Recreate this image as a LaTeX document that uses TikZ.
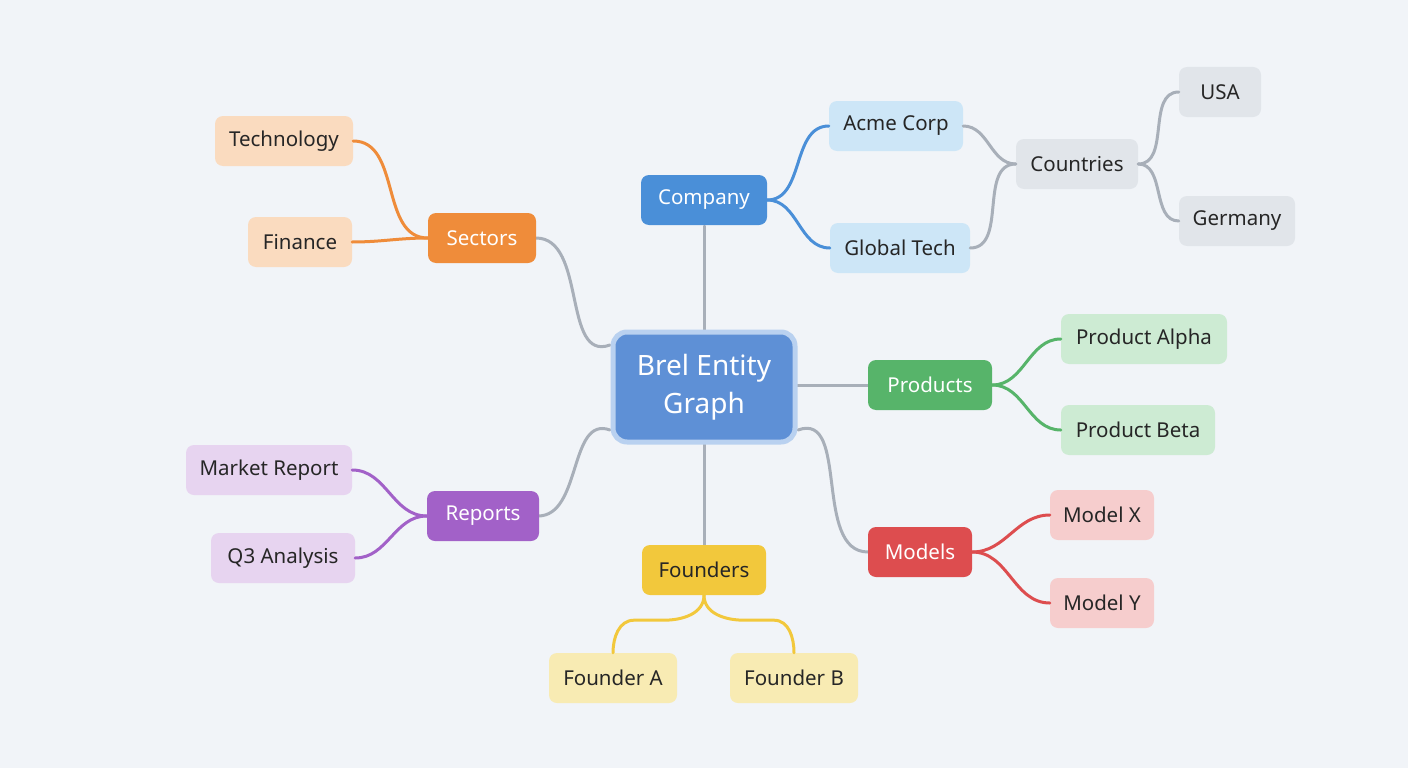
\documentclass[tikz,border=0pt]{standalone}
\usepackage{fontspec}
\setmainfont{Noto Sans}
\begin{document}
\begin{tikzpicture}[x=1pt,y=-1pt,
  box/.style={rounded corners=8pt,minimum height=50pt,font=\fontsize{20.5}{22}\selectfont,inner sep=0pt,text=black!85},
  dark/.style={box,text=white},
  ln/.style={line width=3pt,line cap=round},
  gl/.style={ln,draw=lgray},
]
\definecolor{bg}{HTML}{F1F4F8}
\definecolor{lgray}{HTML}{A8AFB9}
\definecolor{cblue}{HTML}{4A8FD8}\definecolor{lblue}{HTML}{CDE6F7}
\definecolor{cgray}{HTML}{E1E5EA}
\definecolor{corange}{HTML}{EF8C3A}\definecolor{lorange}{HTML}{FADBBF}
\definecolor{cgreen}{HTML}{57B46A}\definecolor{lgreen}{HTML}{CDEBD3}
\definecolor{cred}{HTML}{DD4D4F}\definecolor{lred}{HTML}{F6CDCD}
\definecolor{cpurple}{HTML}{A261C8}\definecolor{lpurple}{HTML}{E7D4F0}
\definecolor{cyellow}{HTML}{F2C83C}\definecolor{lyellow}{HTML}{F8EBB3}
\definecolor{ccenter}{HTML}{5E90D6}\definecolor{lcenter}{HTML}{B9D1F0}
\fill[bg] (0,0) rectangle (1408,768);
\useasboundingbox (0,0) rectangle (1408,768);
% connectors first (behind nodes)
\coordinate (cc) at (704,387);
\draw[gl] (704,330) -- (704,226);
\draw[gl] (795,385) -- (868,385);
\draw[gl] (704,444) -- (704,545);
\draw[gl] (610,345) to[out=-160,in=0] (536,238);
\draw[gl] (610,430) to[out=160,in=0] (538,516);
\draw[gl] (798,430) to[out=20,in=180] (868,552);
% nodes
\node[box,fill=ccenter,draw=lcenter,line width=5pt,minimum width=182pt,minimum height=110pt,rounded corners=14pt,text=white,font=\fontsize{28}{38}\selectfont,align=center] (c) at (cc) {Brel Entity\\Graph};
\node[dark,fill=cblue,minimum width=126pt] (co) at (704,200) {Company};
\node[box,fill=lblue,minimum width=134pt] (ac) at (896,126) {Acme Corp};
\node[box,fill=lblue,minimum width=140pt] (gt) at (900,248) {Global Tech};
\node[box,fill=cgray,minimum width=122pt] (cn) at (1077,164) {Countries};
\node[box,fill=cgray,minimum width=82pt] (us) at (1220,92) {USA};
\node[box,fill=cgray,minimum width=116pt] (de) at (1237,221) {Germany};
\node[dark,fill=corange,minimum width=108pt] (se) at (482,238) {Sectors};
\node[box,fill=lorange,minimum width=138pt] (te) at (284,141) {Technology};
\node[box,fill=lorange,minimum width=104pt] (fi) at (300,242) {Finance};
\node[dark,fill=cgreen,minimum width=124pt] (pr) at (930,385) {Products};
\node[box,fill=lgreen,minimum width=166pt] (pa) at (1144,339) {Product Alpha};
\node[box,fill=lgreen,minimum width=154pt] (pb) at (1138,430) {Product Beta};
\node[dark,fill=cred,minimum width=104pt] (mo) at (920,552) {Models};
\node[box,fill=lred,minimum width=104pt] (mx) at (1102,515) {Model X};
\node[box,fill=lred,minimum width=104pt] (my) at (1102,603) {Model Y};
\node[dark,fill=cpurple,minimum width=112pt] (re) at (483,516) {Reports};
\node[box,fill=lpurple,minimum width=166pt] (mr) at (269,470) {Market Report};
\node[box,fill=lpurple,minimum width=144pt] (q3) at (283,558) {Q3 Analysis};
\node[dark,fill=cyellow,minimum width=124pt,text=black!85] (fo) at (704,570) {Founders};
\node[box,fill=lyellow,minimum width=128pt] (fa) at (613,678) {Founder A};
\node[box,fill=lyellow,minimum width=128pt] (fb) at (794,678) {Founder B};
% child connectors
\draw[ln,cblue] (co.east) to[out=0,in=180] (ac.west);
\draw[ln,cblue] (co.east) to[out=0,in=180] (gt.west);
\draw[gl] (ac.east) to[out=0,in=180] (cn.west);
\draw[gl] (gt.east) to[out=0,in=180] (cn.west);
\draw[gl] (cn.east) to[out=0,in=180] (us.west);
\draw[gl] (cn.east) to[out=0,in=180] (de.west);
\draw[ln,corange] (se.west) to[out=180,in=0] (te.east);
\draw[ln,corange] (se.west) to[out=180,in=0] (fi.east);
\draw[ln,cgreen] (pr.east) to[out=0,in=180] (pa.west);
\draw[ln,cgreen] (pr.east) to[out=0,in=180] (pb.west);
\draw[ln,cred] (mo.east) to[out=0,in=180] (mx.west);
\draw[ln,cred] (mo.east) to[out=0,in=180] (my.west);
\draw[ln,cpurple] (re.west) to[out=180,in=0] (mr.east);
\draw[ln,cpurple] (re.west) to[out=180,in=0] (q3.east);
\draw[ln,cyellow] (fo.south) to[out=-90,in=0] ++(-40,25) -- ++(-30,0) to[out=180,in=90] (fa.north);
\draw[ln,cyellow] (fo.south) to[out=-90,in=180] ++(40,25) -- ++(30,0) to[out=0,in=90] (fb.north);
\end{tikzpicture}
\end{document}
